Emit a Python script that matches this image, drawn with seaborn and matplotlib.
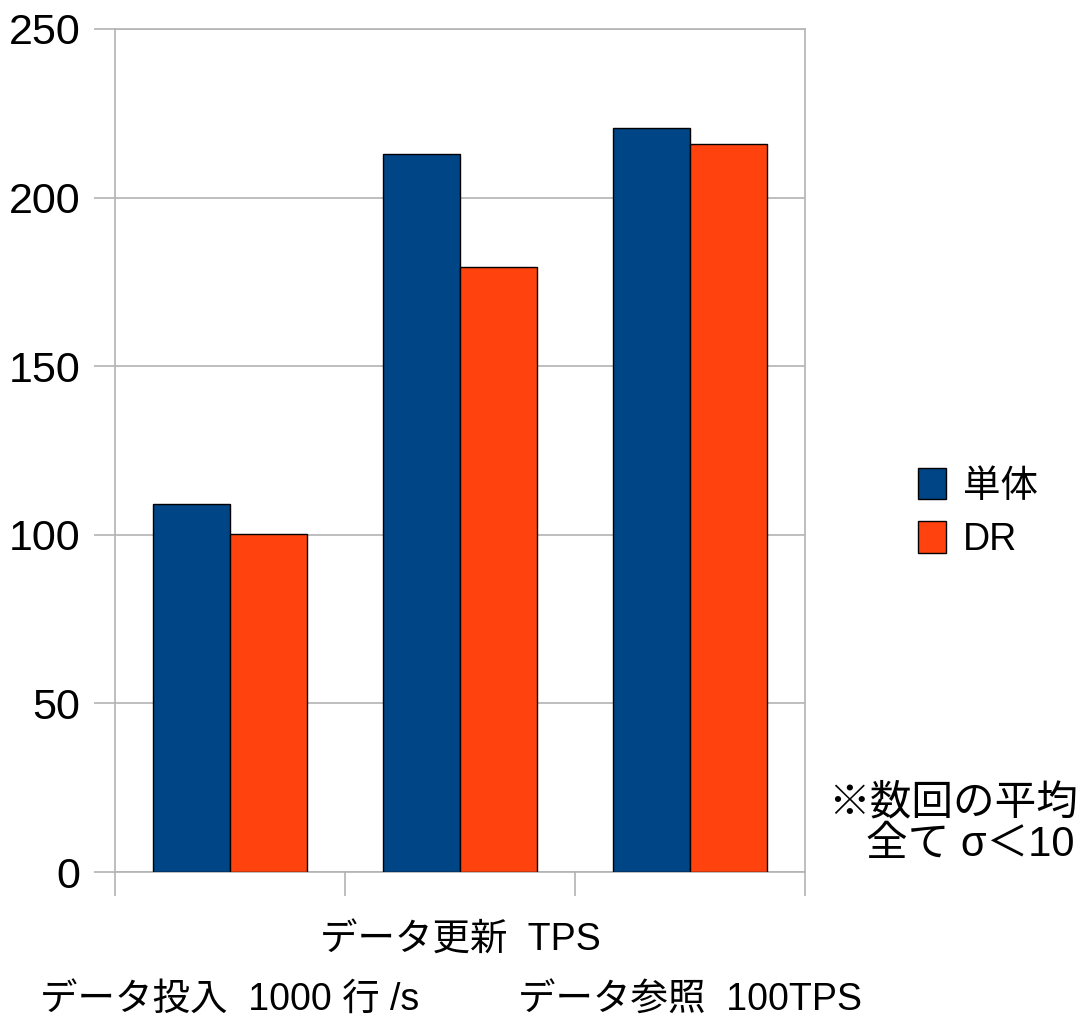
import numpy as np
import pandas as pd
import matplotlib
matplotlib.use("Agg")
import matplotlib.pyplot as plt
import matplotlib.transforms as mtrans
import seaborn as sns
from matplotlib import font_manager

# chart values
categories = ["データ投入  1000 行 /s", "データ更新  TPS", "データ参照  100TPS"]
series_names = ["単体", "DR"]
single_vals = [109.2, 213.0, 220.5]
dr_vals = [100.2, 179.5, 216.0]
colors = ["#004586", "#ff420e"]
yticks = [0, 50, 100, 150, 200, 250]

sns.set_theme(style="white")
names = {f.name for f in font_manager.fontManager.ttflist}
narrow = "Liberation Sans Narrow" if "Liberation Sans Narrow" in names else "Liberation Sans"
plt.rcParams["font.family"] = ["Liberation Sans", "Noto Sans CJK JP", "DejaVu Sans"]
plt.rcParams["text.color"] = "black"
plt.rcParams["xtick.labelcolor"] = "black"
plt.rcParams["ytick.labelcolor"] = "black"
tick_family = [narrow, "Noto Sans CJK JP", "DejaVu Sans"]

df = pd.DataFrame({
    "cat": categories * 2,
    "series": [series_names[0]] * 3 + [series_names[1]] * 3,
    "value": single_vals + dr_vals,
})

fig = plt.figure(figsize=(10.83, 10.19), dpi=100)
ax = fig.add_axes([115 / 1083, 1 - 872 / 1019, 690 / 1083, 843 / 1019])

sns.barplot(data=df, x="cat", y="value", hue="series", palette=colors,
            width=0.667, edgecolor="black", linewidth=1.0, saturation=1,
            ax=ax, zorder=3)

ax.set_xlim(-0.5, 2.5)
ax.set_ylim(0, 250)
ax.set_yticks(yticks)
ax.set_yticklabels([str(v) for v in yticks], family=tick_family, fontsize=31)
ax.grid(axis="y", color="#b3b3b3", linewidth=1.2, zorder=0)
ax.set_axisbelow(True)
ax.set_xlabel("")
ax.set_ylabel("")

for s in ax.spines.values():
    s.set_color("#b3b3b3")
    s.set_linewidth(1.2)

ax.tick_params(axis="y", length=15, width=1.2, color="#b3b3b3", pad=10, left=True)
ax.set_xticks([0, 1, 2])
ax.set_xticklabels([])
ax.tick_params(axis="x", length=0)
ax.set_xticks([-0.5, 0.5, 1.5, 2.5], minor=True)
ax.tick_params(axis="x", which="minor", length=17, width=1.2, color="#b3b3b3", bottom=True)

# staggered category labels (middle one higher)
label_y = [1 - 1000 / 1019, 1 - 941 / 1019, 1 - 1000 / 1019]
trans = mtrans.blended_transform_factory(ax.transData, fig.transFigure)
for i, (cat, yy) in enumerate(zip(categories, label_y)):
    ax.text(i, yy, cat, transform=trans, ha="center", va="center",
            family=tick_family, fontsize=27, clip_on=False)

handles, labs = ax.get_legend_handles_labels()
ax.legend(handles, labs, loc="center left", bbox_to_anchor=(918 / 1083, 1 - 513 / 1019),
          bbox_transform=fig.transFigure, frameon=False, fontsize=27,
          handlelength=0.75, handleheight=0.9, handletextpad=0.45,
          labelspacing=0.45, borderpad=0, borderaxespad=0)

fig.text(1078 / 1083, 1 - 803 / 1019, "※数回の平均", ha="right", va="center", fontsize=30)
fig.text(1074 / 1083, 1 - 845 / 1019, "全て σ＜10", ha="right", va="center", fontsize=30)

fig.savefig("out.png", dpi=100)
